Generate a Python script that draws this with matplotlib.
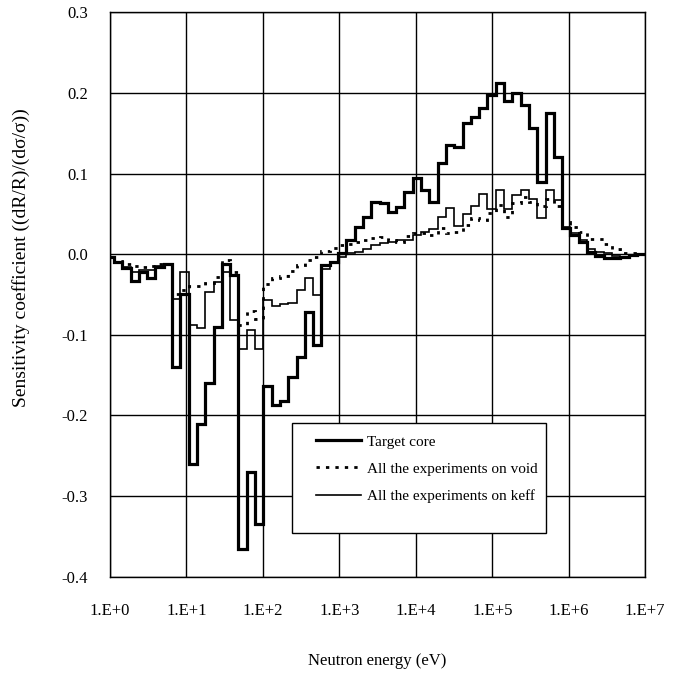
import numpy as np
import matplotlib
matplotlib.use("Agg")
import matplotlib.pyplot as plt
from matplotlib.ticker import FixedLocator, FixedFormatter, NullLocator
from matplotlib.lines import Line2D
from matplotlib.patches import Rectangle

# 70-group (lethargy width 0.25) energy boundaries above ~1 eV, ascending (eV)
edges = [0.8764, 1.1254, 1.4450, 1.8554, 2.3824, 3.0590, 3.9279, 5.0435, 6.4760,
         8.3153, 10.677, 13.710, 17.603, 22.603, 29.023, 37.267, 47.851, 61.442,
         78.893, 101.30, 130.07, 167.02, 214.45, 275.36, 353.58, 454.00, 582.95,
         748.52, 961.12, 1.2341e3, 1.5846e3, 2.0347e3, 2.6126e3, 3.3546e3,
         4.3074e3, 5.5308e3, 7.1017e3, 9.1188e3, 1.1709e4, 1.5034e4, 1.9305e4,
         2.4788e4, 3.1828e4, 4.0868e4, 5.2475e4, 6.7379e4, 8.6517e4, 1.1109e5,
         1.4264e5, 1.8316e5, 2.3518e5, 3.0197e5, 3.8774e5, 4.9787e5, 6.3928e5,
         8.2085e5, 1.0540e6, 1.3534e6, 1.7377e6, 2.2313e6, 2.8650e6, 3.6788e6,
         4.7237e6, 6.0653e6, 7.7880e6, 1.0e7]

target_core = [-0.003, -0.010, -0.017, -0.033, -0.022, -0.030, -0.016, -0.012,
               -0.140, -0.050, -0.260, -0.210, -0.160, -0.090, -0.012, -0.026,
               -0.365, -0.270, -0.335, -0.163, -0.187, -0.182, -0.152, -0.128,
               -0.072, -0.113, -0.014, -0.010, 0.001, 0.017, 0.034, 0.046,
               0.065, 0.063, 0.052, 0.058, 0.077, 0.094, 0.079, 0.065,
               0.113, 0.135, 0.133, 0.162, 0.170, 0.181, 0.197, 0.212,
               0.190, 0.200, 0.185, 0.156, 0.089, 0.175, 0.120, 0.032,
               0.024, 0.015, 0.003, -0.002, -0.005, -0.005, -0.003, -0.001, 0.000]

void_exp = [-0.003, -0.008, -0.012, -0.015, -0.016, -0.015, -0.012, -0.012,
            -0.050, -0.045, -0.040, -0.040, -0.036, -0.028, -0.007, -0.022,
            -0.088, -0.070, -0.080, -0.037, -0.030, -0.027, -0.021, -0.014,
            -0.007, -0.003, 0.004, 0.008, 0.011, 0.013, 0.015, 0.017,
            0.020, 0.021, 0.018, 0.015, 0.022, 0.026, 0.026, 0.024,
            0.032, 0.026, 0.028, 0.036, 0.045, 0.042, 0.051, 0.061,
            0.046, 0.063, 0.071, 0.065, 0.060, 0.068, 0.060, 0.040,
            0.034, 0.027, 0.019, 0.019, 0.012, 0.006, 0.002, 0.001, 0.000]

keff_exp = [-0.003, -0.010, -0.016, -0.022, -0.020, -0.020, -0.015, -0.013,
            -0.055, -0.022, -0.088, -0.092, -0.047, -0.035, -0.022, -0.082,
            -0.117, -0.094, -0.117, -0.057, -0.064, -0.062, -0.060, -0.045,
            -0.030, -0.051, -0.019, -0.010, -0.004, 0.001, 0.003, 0.007,
            0.011, 0.014, 0.015, 0.017, 0.017, 0.024, 0.027, 0.031,
            0.046, 0.057, 0.035, 0.050, 0.060, 0.074, 0.056, 0.079,
            0.056, 0.073, 0.079, 0.069, 0.045, 0.079, 0.067, 0.034,
            0.026, 0.017, 0.007, 0.003, 0.001, -0.002, -0.003, -0.001, -0.001]

series_labels = ['Target core', 'All the experiments on void', 'All the experiments on keff']
x_ticks = [1e0, 1e1, 1e2, 1e3, 1e4, 1e5, 1e6, 1e7]
x_labels = ["1.E+0", "1.E+1", "1.E+2", "1.E+3", "1.E+4", "1.E+5", "1.E+6", "1.E+7"]
y_ticks = [-0.4, -0.3, -0.2, -0.1, 0.0, 0.1, 0.2, 0.3]

plt.rcParams['font.family'] = ['Liberation Serif', 'DejaVu Serif']
plt.rcParams['axes.unicode_minus'] = False

fig = plt.figure(figsize=(6.77, 6.77), dpi=100)
ax = fig.add_axes([0.1625, 0.148, 0.7905, 0.834])

dot_style = (0, (1.2, 2.2))
ax.stairs(keff_exp, edges, baseline=None, color='black', linewidth=1.2, zorder=3)
ax.stairs(void_exp, edges, baseline=None, color='black', linewidth=2.0,
          linestyle=dot_style, zorder=4)
ax.stairs(target_core, edges, baseline=None, color='black', linewidth=2.3, zorder=5)

ax.set_xscale('log')
ax.set_xlim(1, 1e7)
ax.set_ylim(-0.4, 0.3)
ax.xaxis.set_major_locator(FixedLocator(x_ticks))
ax.xaxis.set_major_formatter(FixedFormatter(x_labels))
ax.xaxis.set_minor_locator(NullLocator())
ax.yaxis.set_major_locator(FixedLocator(y_ticks))
ax.yaxis.set_major_formatter(FixedFormatter(["%.1f" % v for v in y_ticks]))
ax.tick_params(axis='both', length=0, labelsize=12)
ax.tick_params(axis='x', pad=19)
ax.tick_params(axis='y', pad=16)
ax.grid(True, color='black', linewidth=1.0)
ax.set_axisbelow(True)
for s in ax.spines.values():
    s.set_linewidth(1.0)
    s.set_color('black')

ax.set_xlabel('Neutron energy (eV)', fontsize=12, labelpad=24)
ax.set_ylabel('Sensitivity coefficient ((dR/R)/(d\u03c3/\u03c3))', fontsize=14)
ax.yaxis.set_label_coords(-0.150, 0.566)

# legend frame
frame = Rectangle((0.340, 0.078), 0.474, 0.1946, transform=ax.transAxes,
                  facecolor='white', edgecolor='black', linewidth=1.0, zorder=9)
ax.add_patch(frame)

leg_lines = [Line2D([], [], color='black', linewidth=2.3),
             Line2D([], [], color='black', linewidth=2.0, linestyle=dot_style),
             Line2D([], [], color='black', linewidth=1.2)]
leg = ax.legend(leg_lines, series_labels,
                loc='upper left', bbox_to_anchor=(0.362, 0.2726), fontsize=11,
                frameon=False, handlelength=3.0, handletextpad=0.33,
                borderpad=0.78, labelspacing=0.88, borderaxespad=0)
leg.set_zorder(10)

fig.savefig('out.png', dpi=100)
